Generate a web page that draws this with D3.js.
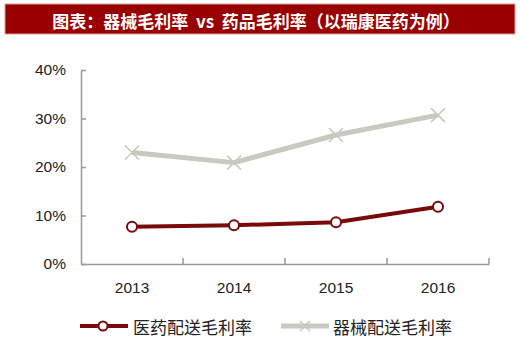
<!DOCTYPE html>
<html><head><meta charset="utf-8">
<script src="https://cdn.jsdelivr.net/npm/d3@7"></script>
<style>
html,body{margin:0;padding:0;background:#fff;}
svg{display:block;}
</style></head>
<body>
<svg id="chart" width="520" height="349"></svg>
<script>
const years = ["2013", "2014", "2015", "2016"];
const pharmaMargin = [7.7, 8.0, 8.6, 11.8];
const deviceMargin = [23.0, 20.9, 26.6, 30.7];
const yTicks = [0, 10, 20, 30, 40];
const seriesNames = ["医药配送毛利率", "器械配送毛利率"];
const titleText = "图表：器械毛利率 vs 药品毛利率（以瑞康医药为例）";

const svg = d3.select("#chart");
const red = "#7a0a0a", gray = "#c9c9bf", axisColor = "#999";
const cjk = "'Noto Sans CJK SC', sans-serif";

// title bar
svg.append("rect").attr("x", 5).attr("y", 4).attr("width", 510).attr("height", 30)
  .attr("fill", "#990000").attr("stroke", "#d9a0a0").attr("stroke-width", 1);
svg.append("text").attr("x", 256).attr("y", 20).attr("text-anchor", "middle")
  .attr("dominant-baseline", "central").attr("fill", "#fff")
  .attr("font-family", cjk).attr("font-weight", "bold").attr("font-size", 17)
  .attr("xml:space", "preserve").style("white-space", "pre")
  .text(titleText.replace(" vs ", "  vs  "));

const x = d3.scaleBand().domain(years).range([81, 489]);
const y = d3.scaleLinear().domain([0, 40]).range([264, 70]);

// y axis
const yAxis = svg.append("g").attr("transform", "translate(81,0)")
  .call(d3.axisLeft(y).tickValues(yTicks).tickFormat(d => d + "%").tickSizeInner(-5).tickSizeOuter(0).tickPadding(15));
yAxis.select(".domain").attr("stroke", axisColor).attr("stroke-width", 1.5);
yAxis.selectAll(".tick line").attr("stroke", axisColor).attr("stroke-width", 1.5);
yAxis.selectAll("text").attr("font-family", "'Liberation Sans', Arial, sans-serif")
  .attr("font-size", 15.5).attr("fill", "#222");

// x axis
const xAxis = svg.append("g").attr("transform", "translate(0,264)")
  .call(d3.axisBottom(x).tickSize(0).tickPadding(18));
xAxis.select(".domain").attr("stroke", axisColor).attr("stroke-width", 1.5);
xAxis.selectAll("text").attr("font-family", "'Liberation Sans', Arial, sans-serif")
  .attr("font-size", 15.5).attr("fill", "#222");
// separator ticks between categories
const bounds = years.slice(1).map(d => x(d)).concat([x.range()[1]]);
svg.append("g").selectAll("line").data(bounds).join("line")
  .attr("x1", d => d).attr("x2", d => d).attr("y1", 264).attr("y2", 258)
  .attr("stroke", axisColor).attr("stroke-width", 1.5);

const cx = d => x(d) + x.bandwidth() / 2;
const line = d3.line().x(d => cx(d[0])).y(d => y(d[1]));

// device series (gray)
const devData = years.map((d, i) => [d, deviceMargin[i]]);
svg.append("path").datum(devData).attr("d", line).attr("fill", "none")
  .attr("stroke", gray).attr("stroke-width", 5).attr("stroke-linejoin", "round");
function cross(g, px, py, s) {
  g.append("path").attr("d", `M${px-s},${py-s}L${px+s},${py+s}M${px-s},${py+s}L${px+s},${py-s}`)
    .attr("stroke", gray).attr("stroke-width", 1.5).attr("fill", "none");
}
const gx = svg.append("g");
devData.forEach(d => cross(gx, cx(d[0]), y(d[1]), 7));

// pharma series (red)
const phData = years.map((d, i) => [d, pharmaMargin[i]]);
svg.append("path").datum(phData).attr("d", line).attr("fill", "none")
  .attr("stroke", red).attr("stroke-width", 4).attr("stroke-linejoin", "round");
svg.append("g").selectAll("circle").data(phData).join("circle")
  .attr("cx", d => cx(d[0])).attr("cy", d => y(d[1])).attr("r", 5)
  .attr("fill", "#fff").attr("stroke", red).attr("stroke-width", 2);

// legend
const leg = svg.append("g");
leg.append("line").attr("x1", 80).attr("x2", 128).attr("y1", 326).attr("y2", 326)
  .attr("stroke", red).attr("stroke-width", 4);
leg.append("circle").attr("cx", 103).attr("cy", 326).attr("r", 4.5)
  .attr("fill", "#fff").attr("stroke", red).attr("stroke-width", 2);
leg.append("text").attr("x", 133).attr("y", 326).attr("dominant-baseline", "central")
  .attr("font-family", cjk).attr("font-size", 17).attr("fill", "#222").text(seriesNames[0]);
leg.append("line").attr("x1", 281).attr("x2", 329).attr("y1", 326).attr("y2", 326)
  .attr("stroke", gray).attr("stroke-width", 5);
cross(leg, 305, 326, 5);
leg.append("text").attr("x", 333).attr("y", 326).attr("dominant-baseline", "central")
  .attr("font-family", cjk).attr("font-size", 17).attr("fill", "#222").text(seriesNames[1]);
</script>
</body></html>
